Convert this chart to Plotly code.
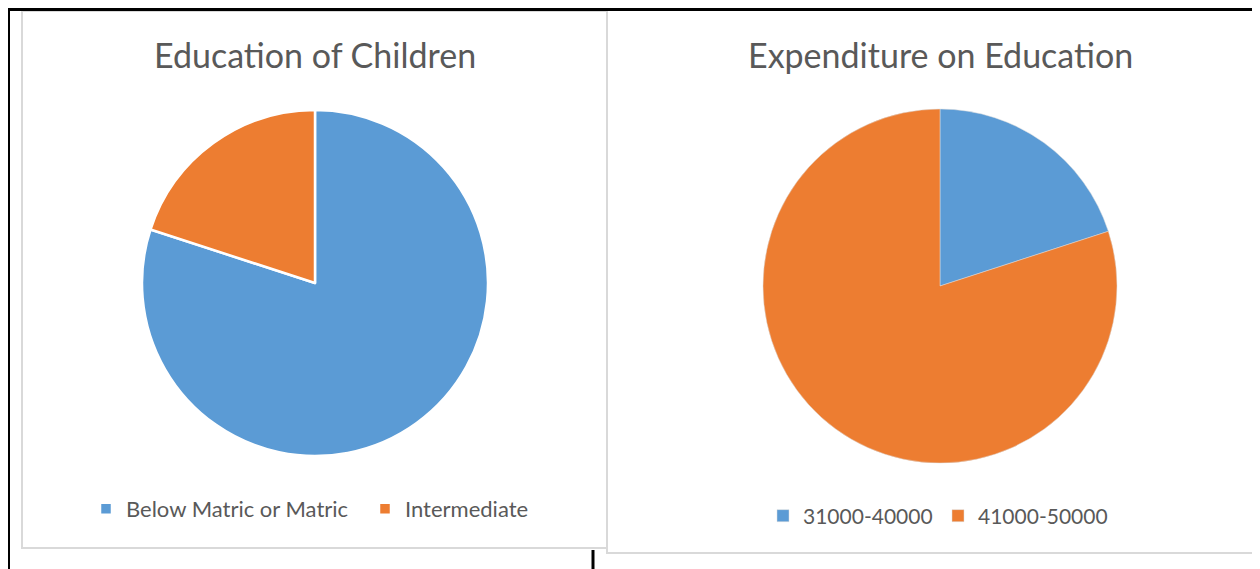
import plotly.graph_objects as go

# The page body has an 8px margin; figure coordinates are screen pixels minus 8.
OFF = 8
W, H = 1260 - OFF, 569 - OFF

edu_labels = ["Below Matric or Matric", "Intermediate"]
edu_values = [80, 20]
exp_labels = ["31000-40000", "41000-50000"]
exp_values = [20, 80]
colors = ["#5B9BD5", "#ED7D31"]
titles = ["Education of Children", "Expenditure on Education"]

FONT = "Lato, 'Open Sans', sans-serif"
GRAY = "#595959"


def px_x(x):
    return (x - OFF) / W


def px_y(y):
    return 1 - (y - OFF) / H


fig = go.Figure()

# left pie: center (315,283) r 173 (screen px)
fig.add_trace(go.Pie(
    labels=edu_labels, values=edu_values, sort=False, direction="clockwise", rotation=0,
    marker=dict(colors=colors, line=dict(color="white", width=2.5)),
    textinfo="none", hoverinfo="label+percent",
    domain=dict(x=[px_x(315 - 173), px_x(315 + 173)], y=[px_y(283 + 173), px_y(283 - 173)]),
    legend="legend", showlegend=True,
))
# right pie: center (940,286) r 177
fig.add_trace(go.Pie(
    labels=exp_labels, values=exp_values, sort=False, direction="clockwise", rotation=0,
    marker=dict(colors=colors, line=dict(color="#dddddd", width=0.5)),
    textinfo="none", hoverinfo="label+percent",
    domain=dict(x=[px_x(940 - 177), px_x(940 + 177)], y=[px_y(286 + 177), px_y(286 - 177)]),
    legend="legend2", showlegend=True,
))

shapes = [
    # chart boxes
    dict(type="rect", xref="paper", yref="paper", x0=px_x(22), x1=px_x(607), y0=px_y(548), y1=px_y(11),
         line=dict(color="#D9D9D9", width=2), fillcolor="white", layer="below"),
    dict(type="rect", xref="paper", yref="paper", x0=px_x(607), x1=px_x(1270), y0=px_y(553), y1=px_y(10),
         line=dict(color="#D9D9D9", width=2), fillcolor="white", layer="below"),
    # black table lines
    dict(type="line", xref="paper", yref="paper", x0=px_x(7), x1=px_x(1256), y0=px_y(9.5), y1=px_y(9.5),
         line=dict(color="black", width=3), layer="below"),
    dict(type="line", xref="paper", yref="paper", x0=px_x(8.5), x1=px_x(8.5), y0=px_y(8), y1=px_y(575),
         line=dict(color="black", width=3), layer="below"),
    dict(type="line", xref="paper", yref="paper", x0=px_x(593), x1=px_x(593), y0=px_y(550), y1=px_y(575),
         line=dict(color="black", width=3), layer="below"),
    dict(type="line", xref="paper", yref="paper", x0=px_x(1255), x1=px_x(1255), y0=px_y(555), y1=px_y(575),
         line=dict(color="black", width=3), layer="below"),
]

annotations = [
    dict(text=titles[0], x=px_x(315), y=px_y(54), xref="paper", yref="paper", showarrow=False,
         xanchor="center", yanchor="middle", font=dict(family=FONT, size=34, color=GRAY)),
    dict(text=titles[1], x=px_x(940), y=px_y(54), xref="paper", yref="paper", showarrow=False,
         xanchor="center", yanchor="middle", font=dict(family=FONT, size=34, color=GRAY)),
]

fig.update_layout(
    width=W, height=H,
    margin=dict(l=0, r=0, t=0, b=0),
    paper_bgcolor="white", plot_bgcolor="white",
    shapes=shapes, annotations=annotations,
    legend=dict(orientation="h", x=px_x(126 - 40), y=px_y(509), xanchor="left", yanchor="middle",
                entrywidth=234, entrywidthmode="pixels",
                font=dict(family=FONT, size=22, color=GRAY), bgcolor="rgba(0,0,0,0)"),
    legend2=dict(orientation="h", x=px_x(803 - 40), y=px_y(516), xanchor="left", yanchor="middle",
                 entrywidth=130, entrywidthmode="pixels",
                 font=dict(family=FONT, size=21, color=GRAY), bgcolor="rgba(0,0,0,0)"),
)

fig.write_html("out.html")
